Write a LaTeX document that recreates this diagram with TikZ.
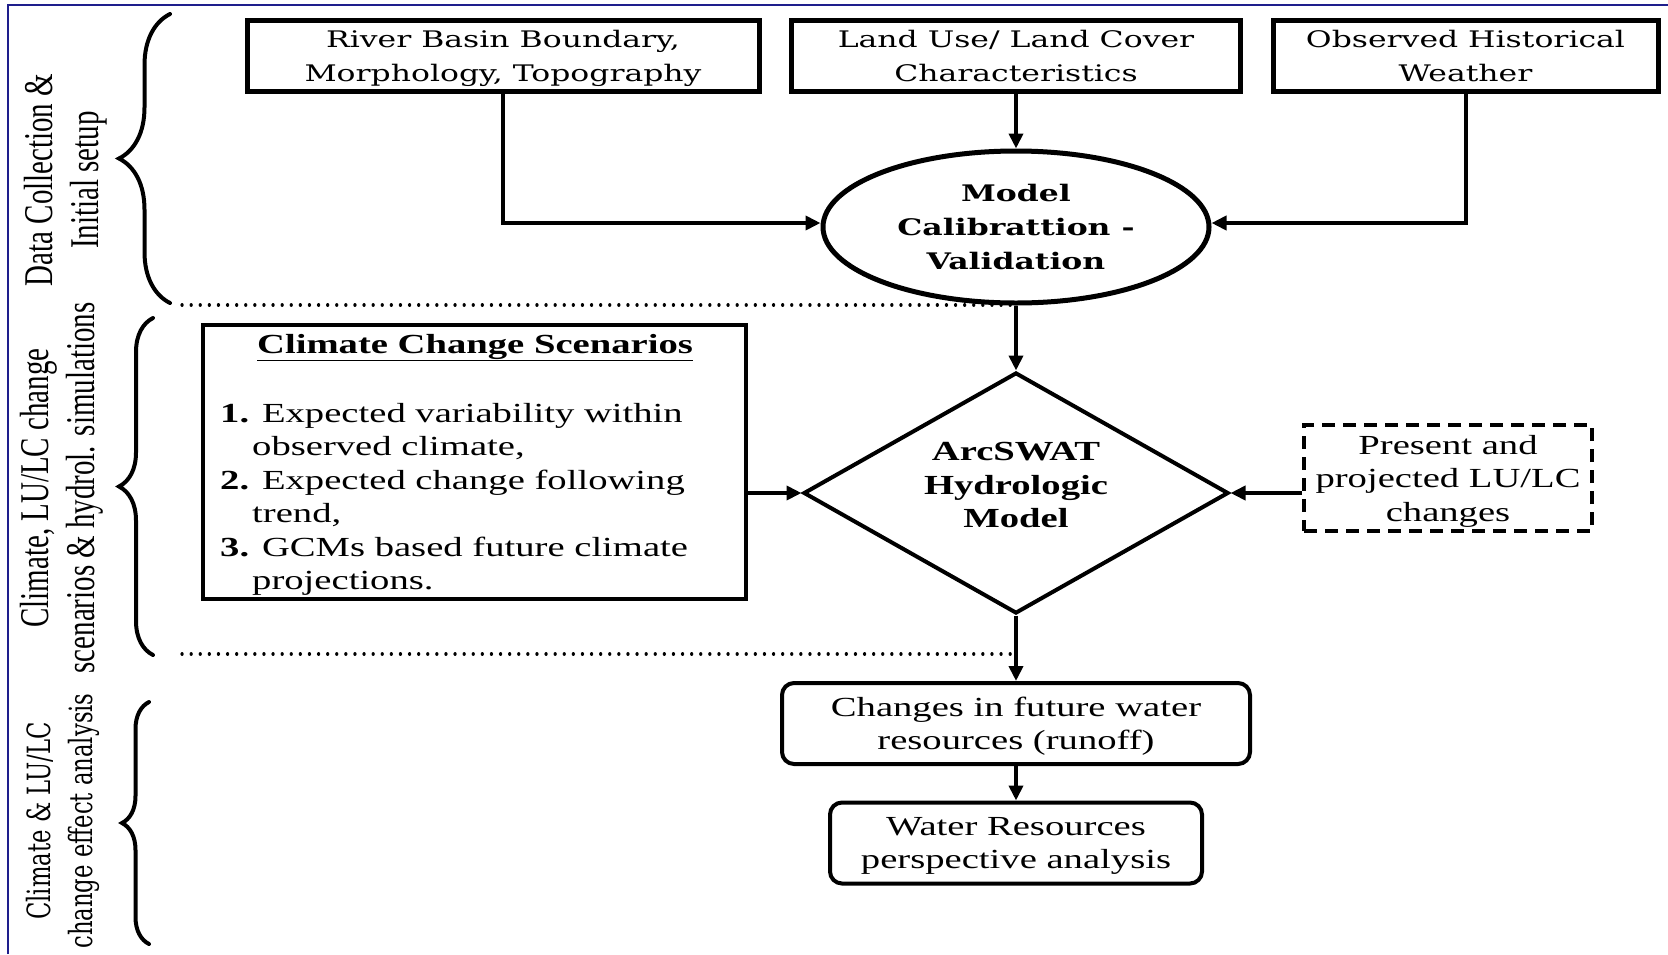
\documentclass[tikz,border=0pt]{standalone}
\usepackage{fontspec}
\setmainfont{Liberation Serif}
\newfontfamily\wideserif[FakeStretch=1.38]{DejaVu Serif}
\newfontfamily\widetimes[FakeStretch=1.4]{Liberation Serif}
\newfontfamily\sidetimes[FakeStretch=0.71]{Liberation Serif}
\newfontfamily\sideserif[FakeStretch=0.71]{DejaVu Serif}
\usetikzlibrary{arrows.meta,shapes.geometric,decorations.pathreplacing}
\definecolor{framecol}{RGB}{30,30,140}
\def\topfont{\wideserif\fontsize{22.8}{34}\selectfont}
\def\bodyfont{\widetimes\fontsize{27.6}{33.5}\selectfont}
\tikzset{
	inbox/.style={draw, line width=5pt, minimum width=#1, minimum height=71pt, inner sep=0pt, text depth=0pt, align=center, font=\topfont},
	calibell/.style={draw, ellipse, line width=5pt, minimum width=386pt, minimum height=152pt, inner sep=0pt, align=center, font=\topfont\bfseries},
	swatdiam/.style={draw, diamond, aspect=1.76, line width=4pt, minimum width=425pt, minimum height=241pt, inner sep=0pt, text depth=16pt, align=center, font=\bodyfont\bfseries},
	scenbox/.style={draw, line width=4pt, minimum width=543pt, minimum height=274pt, inner sep=0pt},
	lulcbox/.style={draw, line width=4pt, dash pattern=on 13pt off 8pt, minimum width=288pt, minimum height=106pt, inner sep=0pt, text depth=0pt, align=center, font=\bodyfont},
	outbox/.style={draw, line width=4pt, rounded corners=12pt, minimum width=#1, minimum height=81pt, inner sep=0pt, text depth=0pt, align=center, font=\bodyfont},
	flow/.style={line width=4pt, -{Triangle[length=15pt,width=14pt]}},
	sepline/.style={line width=3.2pt, line cap=round, dash pattern=on 0.1pt off 9pt},
	sidebrace/.style={decorate, decoration={brace, amplitude=#1}, line width=4pt, line cap=round},
	sidetext/.style={rotate=90, align=center, inner sep=0pt}
}
\begin{document}
\begin{tikzpicture}[x=1pt, y=-1pt]
			%%%%% START %%%%%
			\useasboundingbox (0,0) rectangle (1668,954);
			\draw[framecol, line width=2.5pt] (8,954) -- (8,5) -- (1668,5);
			
			% inputs
			\node[inbox=512pt] (basin) at (503,55.5) {River Basin Boundary,\\Morphology, Topography};
			\node[inbox=449pt] (landuse) at (1016,55.5) {Land Use/ Land Cover\\Characteristics};
			\node[inbox=385pt] (weather) at (1465.5,55.5) {Observed Historical\\Weather};
			\node[calibell] (calib) at (1016,227) {Model\\Calibrattion -\\Validation};
			
			\draw[flow] (basin.south) |- ([yshift=4pt]calib.west);
			\draw[flow] (landuse.south) -- (calib.north);
			\draw[flow] (weather.south) |- ([yshift=4pt]calib.east);
			
			\draw[sepline] (182,305) -- (1016,305);
			
			% model
			\node[swatdiam] (swat) at (1016,493) {ArcSWAT\\Hydrologic\\Model};
			\node[scenbox] (scen) at (474.5,462) {};
			\node[anchor=base, font=\bodyfont\bfseries, inner sep=0pt] (scentitle) at (475,353) {\underline{Climate Change Scenarios}};
			\node[anchor=west, align=left, font=\bodyfont, inner sep=0pt] (scenlist) at (220,499.5) {\textbf{1.} Expected variability within\\
				\hspace*{32pt}observed climate,\\
				\textbf{2.} Expected change following\\
				\hspace*{32pt}trend,\\
				\textbf{3.} GCMs based future climate\\
				\hspace*{32pt}projections.};
			\node[lulcbox] (lulc) at (1448,478) {Present and\\projected LU/LC\\changes};
			
			\draw[flow] (calib.south) -- (swat.north);
			\draw[flow] (scen.east |- swat.west) -- (swat.west);
			\draw[flow] (lulc.west |- swat.east) -- (swat.east);
			
			\draw[sepline] (182,654) -- (1016,654);
			
			% outputs
			\node[outbox=468pt] (runoff) at (1016,723.5) {Changes in future water\\resources (runoff)};
			\node[outbox=372pt] (wres) at (1016,843) {Water Resources\\perspective analysis};
			\draw[flow] (swat.south) -- (runoff.north);
			\draw[flow] (runoff.south) -- (wres.north);
			
			% stages
			\draw[sidebrace=51pt] (170,303) -- (170,14);
			\draw[sidebrace=34pt] (153,655) -- (153,318);
			\draw[sidebrace=27pt] (149,944) -- (149,702);
			\node[sidetext, font=\sidetimes\fontsize{40.8}{46}\selectfont] (stage1) at (66,180) {Data Collection \&\\Initial setup};
			\node[sidetext, font=\sidetimes\fontsize{40.8}{46}\selectfont] (stage2) at (62,488) {Climate, LU/LC change\\scenarios \& hydrol. simulations};
			\node[sidetext, font=\sideserif\fontsize{32}{42}\selectfont] (stage3) at (63,821) {Climate \& LU/LC\\change effect analysis};
			%%%%% END %%%%%
\end{tikzpicture}
\end{document}
